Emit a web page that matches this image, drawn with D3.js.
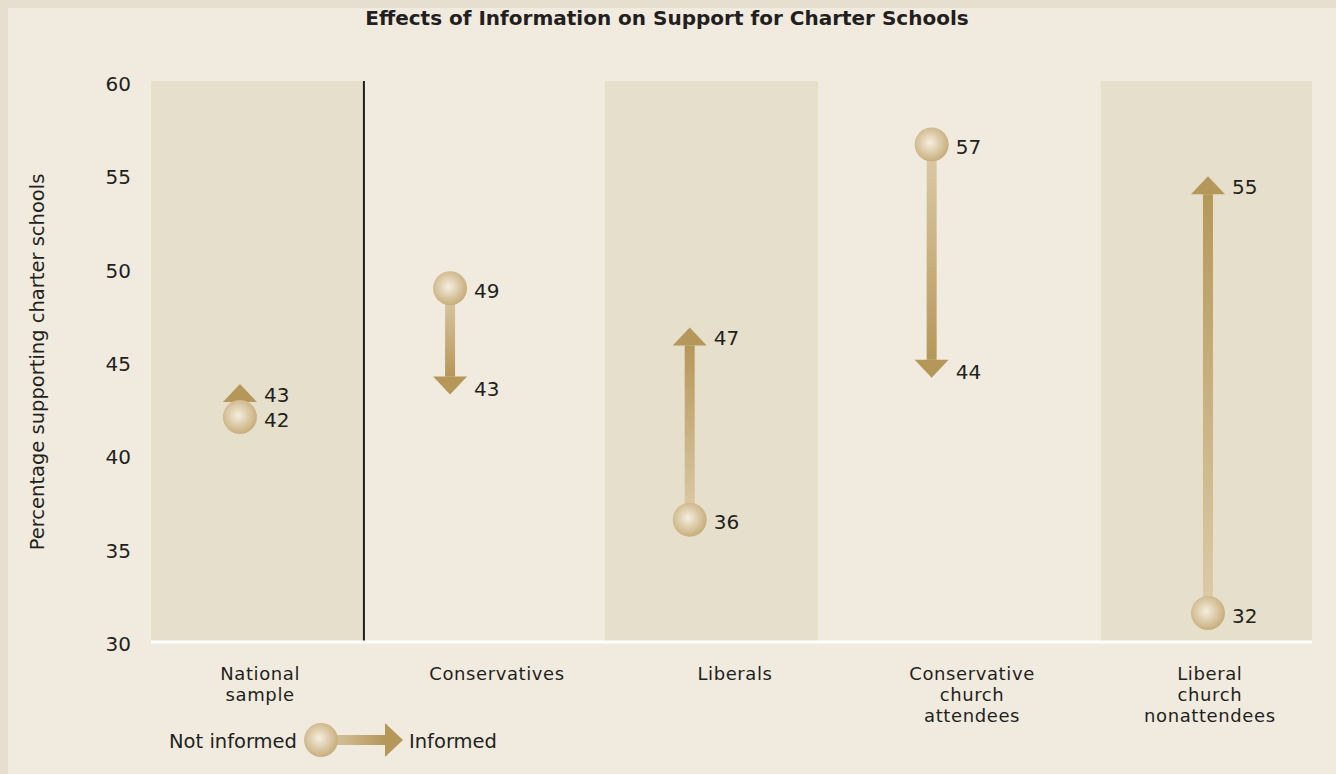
<!DOCTYPE html>
<html>
<head>
<meta charset="utf-8">
<script src="https://cdn.jsdelivr.net/npm/d3@7"></script>
<style>
  body { margin: 0; background: #f1ebdf; }
  text { font-family: "DejaVu Sans", sans-serif; fill: #231f20; }
</style>
</head>
<body>
<div id="chart"></div>
<script>
// data
var categories = [["National", "sample"], ["Conservatives"], ["Liberals"],
                  ["Conservative", "church", "attendees"], ["Liberal", "church", "nonattendees"]];
var notInformed = [42.0, 48.9, 36.5, 56.6, 31.5];   // plotted position
var informed    = [43.0, 43.2, 46.8, 44.1, 54.9];
var notInformedLabels = [42, 49, 36, 57, 32];
var informedLabels    = [43, 43, 47, 44, 55];
var yTicks = [30, 35, 40, 45, 50, 55, 60];

// layout, in column units (0..5 across the plot)
var markerPos = [0.383, 1.288, 2.32, 3.362, 4.552];
var labelPos  = [0.47, 1.49, 2.515, 3.536, 4.56];
var shaded    = [[0, 0.917], [1.955, 2.873], [4.09, 5]];

var W = 1336, H = 774;
var margin = { top: 81, left: 151, right: 24, bottom: 133 };

var svg = d3.select("#chart").append("svg")
      .attr("width", W).attr("height", H);

// frame
svg.append("rect").attr("width", W).attr("height", H).attr("fill", "#e6dfd0");
svg.append("rect").attr("x", 8).attr("y", 8).attr("width", W - 8).attr("height", H - 8).attr("fill", "#f1ebdf");

var x = d3.scaleLinear().domain([0, 5]).range([margin.left, W - margin.right]);
var y = d3.scaleLinear().domain([30, 60]).range([H - margin.bottom, margin.top]);

// gradients
var defs = svg.append("defs");
var rg = defs.append("radialGradient").attr("id", "ball")
      .attr("cx", "45%").attr("cy", "45%").attr("r", "55%");
rg.append("stop").attr("offset", "0%").attr("stop-color", "#f5eedf");
rg.append("stop").attr("offset", "100%").attr("stop-color", "#c8ae7c");

function shaftGrad(id, x1, y1, x2, y2) {
      var g = defs.append("linearGradient").attr("id", id)
            .attr("gradientUnits", "userSpaceOnUse")
            .attr("x1", x1).attr("y1", y1).attr("x2", x2).attr("y2", y2);
      g.append("stop").attr("offset", "0%").attr("stop-color", "#ddccaa");
      g.append("stop").attr("offset", "100%").attr("stop-color", "#b5975a");
}

// shaded bands
svg.selectAll("rect.band").data(shaded).enter().append("rect")
      .attr("class", "band")
      .attr("x", d => x(d[0])).attr("width", d => x(d[1]) - x(d[0]))
      .attr("y", y(60)).attr("height", y(30) - y(60))
      .attr("fill", "#e6dfcb");

// divider after national sample
svg.append("line")
      .attr("x1", x(shaded[0][1])).attr("x2", x(shaded[0][1]))
      .attr("y1", y(60)).attr("y2", y(30))
      .attr("stroke", "#231f20").attr("stroke-width", 2);

// baseline
svg.append("line")
      .attr("x1", x(0)).attr("x2", x(5)).attr("y1", y(30) + 1).attr("y2", y(30) + 1)
      .attr("stroke", "#ffffff").attr("stroke-width", 3);

// y axis
var yAxis = svg.append("g")
      .attr("transform", "translate(" + (margin.left - 20) + ",3)")
      .call(d3.axisLeft(y).tickValues(yTicks).tickSize(0).tickPadding(0));
yAxis.select(".domain").remove();
yAxis.selectAll("text").style("font-size", "20px").attr("fill", "#231f20")
      .style("font-family", "'DejaVu Sans', sans-serif");

svg.append("text")
      .attr("transform", "translate(44," + (y(45) + 1) + ") rotate(-90)")
      .attr("text-anchor", "middle")
      .style("font-size", "19.5px")
      .text("Percentage supporting charter schools");

// title
svg.append("text")
      .attr("x", 667).attr("y", 25)
      .attr("text-anchor", "middle")
      .style("font-size", "20px").style("font-weight", "bold")
      .text("Effects of Information on Support for Charter Schools");

// category labels
categories.forEach(function (lines, i) {
      lines.forEach(function (l, j) {
            svg.append("text")
                  .attr("x", x(labelPos[i])).attr("y", 680 + j * 21)
                  .attr("text-anchor", "middle")
                  .style("font-size", "18px").style("letter-spacing", "0.6px")
                  .text(l);
      });
});

var R = 17, headW = 34, headH = 18, shaftW = 10;

// markers
notInformed.forEach(function (v0, i) {
      var cx = x(markerPos[i]);
      var cy = y(v0);
      var up = informed[i] > v0;
      var tip = y(informed[i]);
      if (up && cy - tip < R + headH) tip = cy - R - headH + 2;
      var dir = up ? 1 : -1;       // head base is below tip when up
      var base = tip + dir * headH;

      shaftGrad("sg" + i, 0, cy, 0, base);
      var g = svg.append("g");
      g.append("rect")
            .attr("x", cx - shaftW / 2).attr("width", shaftW)
            .attr("y", Math.min(cy, base)).attr("height", Math.abs(base - cy))
            .attr("fill", "url(#sg" + i + ")");
      g.append("path")
            .attr("d", "M" + (cx - headW / 2) + "," + base + "L" + (cx + headW / 2) + "," + base + "L" + cx + "," + tip + "Z")
            .attr("fill", "#b5975a");
      g.append("circle")
            .attr("cx", cx).attr("cy", cy).attr("r", R)
            .attr("fill", "url(#ball)");

      g.append("text")
            .attr("x", cx + 24).attr("y", cy + 4)
            .attr("dominant-baseline", "middle")
            .style("font-size", "20px")
            .text(notInformedLabels[i]);
      g.append("text")
            .attr("x", cx + 24).attr("y", up ? tip + 12 : tip - 4)
            .attr("dominant-baseline", "middle")
            .style("font-size", "20px")
            .text(informedLabels[i]);
});

// legend
var lg = svg.append("g");
var lx = 321, ly = 740;
lg.append("text").attr("x", lx - 24).attr("y", ly + 2).attr("text-anchor", "end")
      .attr("dominant-baseline", "middle").style("font-size", "19.5px").text("Not informed");
shaftGrad("sgl", lx, 0, lx + 64, 0);
lg.append("rect").attr("x", lx).attr("y", ly - shaftW / 2).attr("width", 64).attr("height", shaftW)
      .attr("fill", "url(#sgl)");
lg.append("path")
      .attr("d", "M" + (lx + 64) + "," + (ly - headW / 2) + "L" + (lx + 64) + "," + (ly + headW / 2) + "L" + (lx + 82) + "," + ly + "Z")
      .attr("fill", "#b5975a");
lg.append("circle").attr("cx", lx).attr("cy", ly).attr("r", R).attr("fill", "url(#ball)");
lg.append("text").attr("x", lx + 88).attr("y", ly + 2)
      .attr("dominant-baseline", "middle").style("font-size", "19.5px").text("Informed");
</script>
</body>
</html>
